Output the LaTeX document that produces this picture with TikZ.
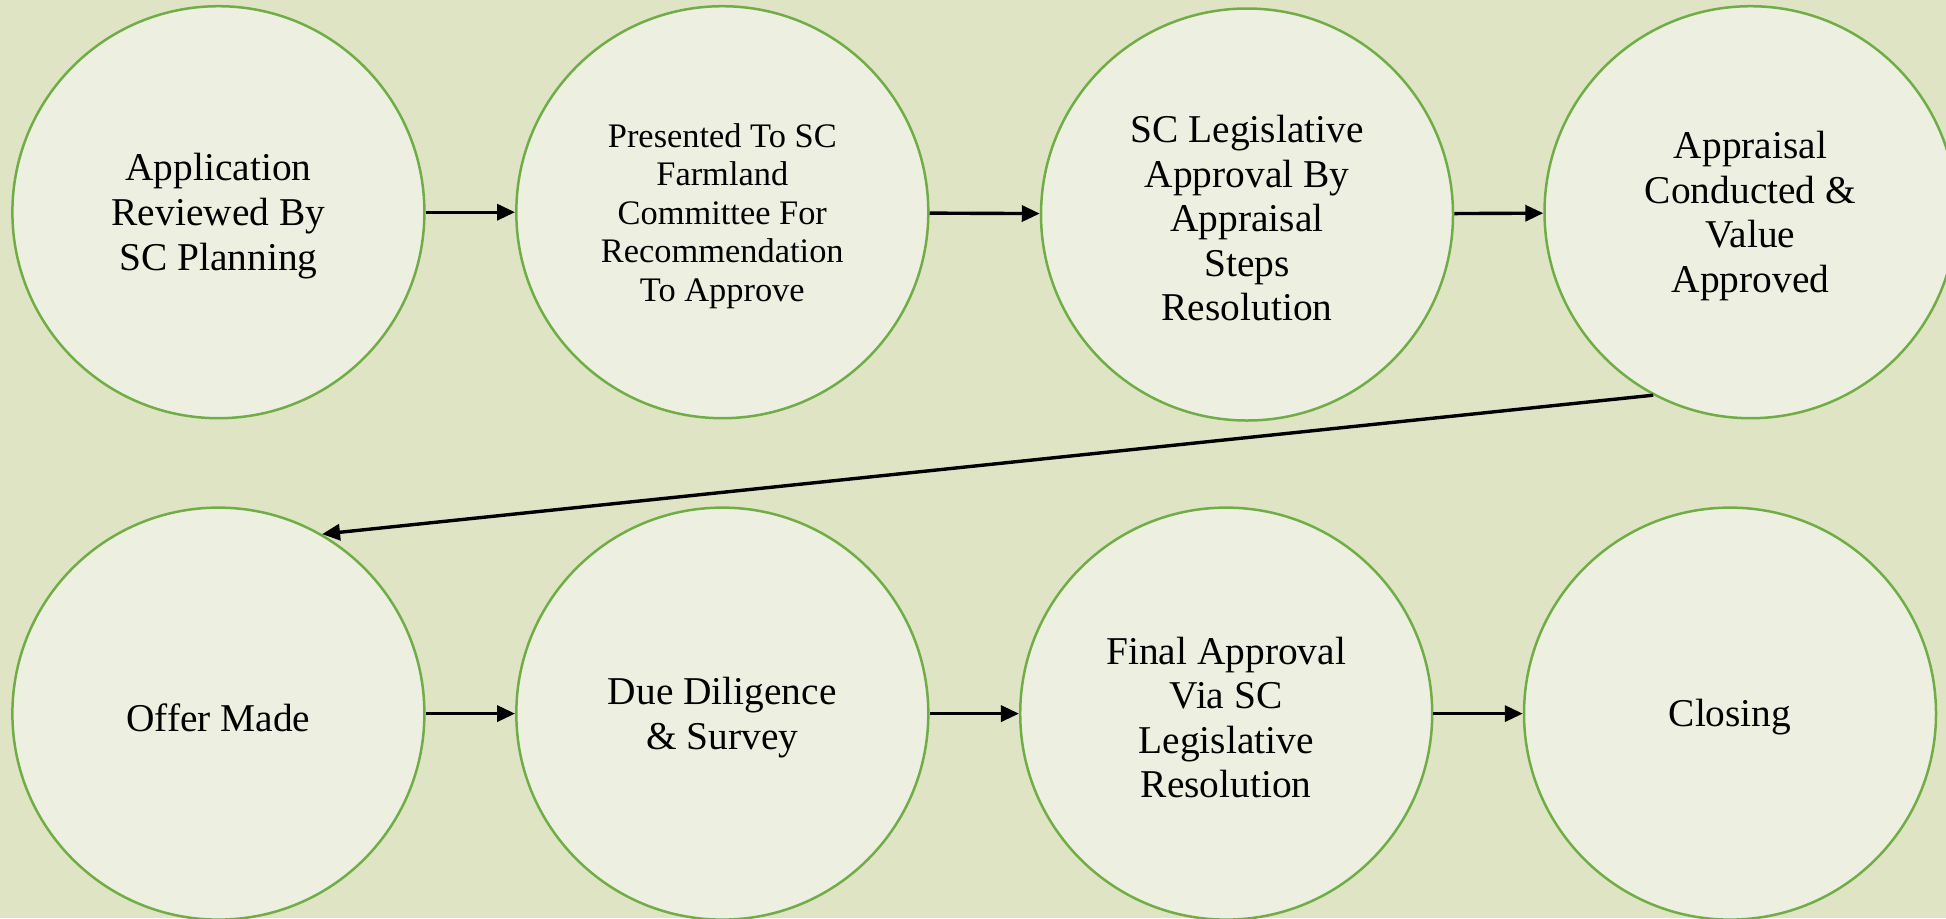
\documentclass[tikz,border=0pt]{standalone}
\usepackage{fontspec}
\setmainfont{Liberation Serif}
\usetikzlibrary{arrows.meta}
\definecolor{bgolive}{RGB}{222,228,196}
\definecolor{stepfill}{RGB}{237,240,225}
\definecolor{stepline}{RGB}{112,173,71}
\begin{document}
\begin{tikzpicture}[x=0.5pt,y=-0.5pt,
  stepnode/.style={circle, draw=stepline, line width=1.25pt, fill=stepfill,
    minimum size=206pt, inner sep=0pt},
  steptext/.style={align=center, text=black, inner sep=0pt, yshift=-1.9pt,
    font=\fontsize{19.7}{22.3}\selectfont},
  smalltext/.style={steptext, font=\fontsize{17.2}{19.25}\selectfont},
  flow/.style={-{Triangle[length=9pt,width=8pt]}, line width=1.7pt, black}]
  % page background
  \fill[bgolive] (0,0) rectangle (1946,918);
  \useasboundingbox (0,0) rectangle (1946,918);

  % first row
  \node[stepnode, label={[steptext]center:{Application\\Reviewed By\\SC Planning}}] (a) at (218.4,212.2) {};
  \node[stepnode, label={[smalltext]center:{Presented To SC\\Farmland\\Committee For\\Recommendation\\To Approve}}] (b) at (722.3,212.2) {};
  \node[stepnode, label={[steptext]center:{SC Legislative\\Approval By\\Appraisal\\Steps\\Resolution}}] (c) at (1247,214.5) {};
  \node[stepnode, label={[steptext]center:{Appraisal\\Conducted \&\\Value\\Approved}}] (d) at (1750.5,212.2) {};

  % second row
  \node[stepnode, label={[steptext]center:{Offer Made}}] (e) at (218.4,713.6) {};
  \node[stepnode, label={[steptext]center:{Due Diligence\\\& Survey}}] (f) at (722.3,713.6) {};
  \node[stepnode, label={[steptext]center:{Final Approval\\Via SC\\Legislative\\Resolution}}] (g) at (1226.2,713.6) {};
  \node[stepnode, label={[steptext]center:{Closing}}] (h) at (1730,713.6) {};

  % connectors
  \draw[flow] (a) -- (b);
  \draw[flow] (b) -- (c);
  \draw[flow] (c) -- (d);
  \draw[flow] (d.242) -- (e.60.5);
  \draw[flow] (e) -- (f);
  \draw[flow] (f) -- (g);
  \draw[flow] (g) -- (h);
\end{tikzpicture}
\end{document}
